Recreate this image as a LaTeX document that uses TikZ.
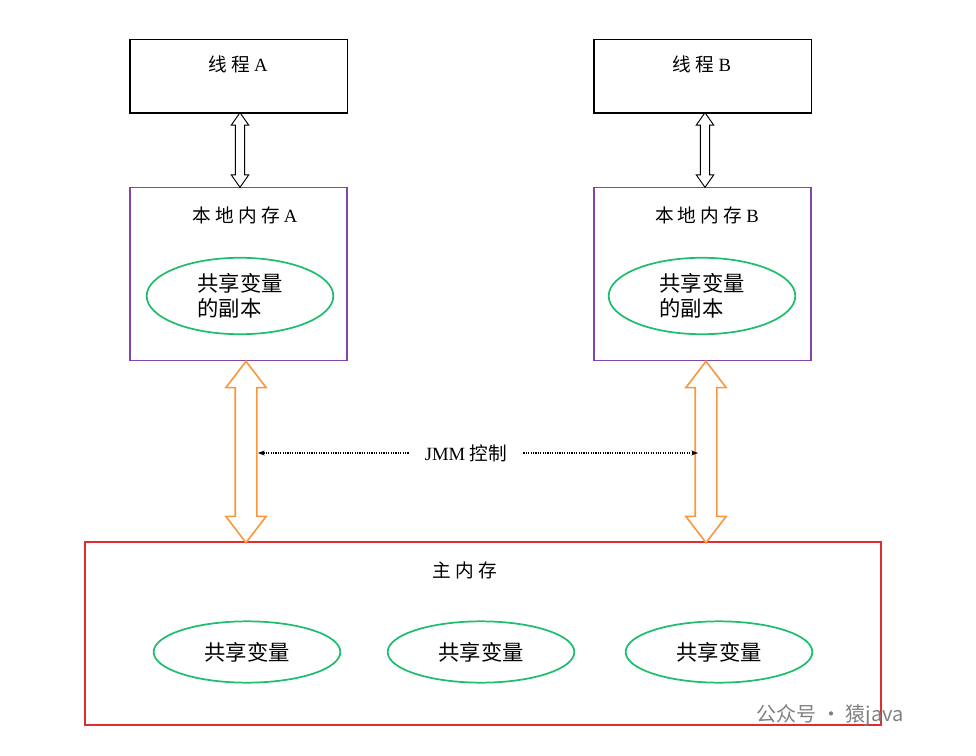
\documentclass[tikz,border=0pt]{standalone}
\usepackage{fontspec}
\setmainfont{Liberation Serif}
\newfontfamily\cjk{Noto Sans CJK SC}
\usetikzlibrary{shapes.arrows,shapes.geometric,arrows.meta}
\definecolor{lmpurple}{RGB}{130,70,170}
\definecolor{mmred}{RGB}{225,45,45}
\definecolor{vargreen}{RGB}{30,190,110}
\definecolor{syncorange}{RGB}{250,150,60}
\tikzset{
  thread/.style={draw, line width=1pt, minimum width=163pt, minimum height=55pt},
  local/.style={draw=lmpurple, line width=1.2pt, minimum width=163pt, minimum height=130pt},
  var/.style={draw=vargreen, ellipse, line width=1.3pt, minimum width=140pt, minimum height=50pt, align=left, font=\cjk\fontsize{16}{19}\selectfont},
  lbl/.style={font=\fontsize{14}{17}\selectfont},
  link/.style={draw, double arrow, shape border rotate=90, inner sep=0pt, line width=0.7pt},
  small link/.style={link, minimum width=13pt, minimum height=56pt, double arrow head extend=3pt, double arrow tip angle=70, text width=6pt},
  big link/.style={link, draw=syncorange, line width=1.2pt, minimum width=30pt, minimum height=136pt, double arrow head extend=7pt, double arrow tip angle=75, text width=15pt},
  jmm/.style={densely dotted, line width=0.8pt, -{Stealth[length=5pt]}},
}
\begin{document}
\begin{tikzpicture}[x=0.75pt, y=-0.75pt]
\useasboundingbox (0,0) rectangle (976,756);
% threads
\node[thread, lbl] (tA) at (238.5,76.5) {};
\node[thread, lbl] (tB) at (702.5,76.5) {};
\node[lbl] (nA) at (238,64) {\cjk 线 程 \rmfamily A};
\node[lbl] (nB) at (702,64) {\cjk 线 程 \rmfamily B};
% local memory
\node[local] (lA) at (238.5,274) {};
\node[local] (lB) at (702.5,274) {};
\node[lbl] at (245,215) {\cjk 本 地 内 存 \rmfamily A};
\node[lbl] at (707,215) {\cjk 本 地 内 存 \rmfamily B};
\node[var] (cA) at (240,296) {共享变量\\的副本};
\node[var] (cB) at (702,296) {共享变量\\的副本};
\node[small link] (aA) at (240,150) {};
\node[small link] (aB) at (705,150) {};
% main memory
\node[draw=mmred, line width=1.2pt, minimum width=597pt, minimum height=137pt] (mm) at (483,633.5) {};
\node[lbl] at (465,570) {\cjk 主 内 存};
\node[var, minimum height=46pt] (v1) at (247,652) {共享变量};
\node[var, minimum height=46pt] (v2) at (481,652) {共享变量};
\node[var, minimum height=46pt] (v3) at (719,652) {共享变量};
\node[big link] (sA) at (246,452) {};
\node[big link] (sB) at (706,452) {};
% JMM
\node[lbl, inner xsep=12pt] (jmm) at (466,453) {JMM {\cjk 控制}};
\coordinate (jl) at (258,453);
\coordinate (jr) at (698,453);
\draw[jmm] (jmm.west) -- (jl);
\draw[jmm] (jmm.east) -- (jr);
% watermark
\node[text=gray, anchor=west, font=\cjk\fontsize{15}{18}\selectfont] (wm) at (752,715) {公众号 · 猿java};
\end{tikzpicture}
\end{document}
